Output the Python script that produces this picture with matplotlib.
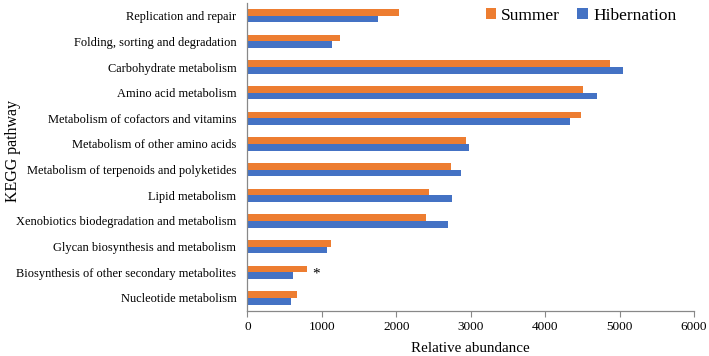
import matplotlib
matplotlib.use("Agg")
import matplotlib.pyplot as plt
import numpy as np

categories = [
    "Replication and repair",
    "Folding, sorting and degradation",
    "Carbohydrate metabolism",
    "Amino acid metabolism",
    "Metabolism of cofactors and vitamins",
    "Metabolism of other amino acids",
    "Metabolism of terpenoids and polyketides",
    "Lipid metabolism",
    "Xenobiotics biodegradation and metabolism",
    "Glycan biosynthesis and metabolism",
    "Biosynthesis of other secondary metabolites",
    "Nucleotide metabolism",
]
summer = [2036, 1247, 4870, 4503, 4480, 2942, 2736, 2435, 2395, 1117, 803, 659]
hibernation = [1758, 1130, 5050, 4691, 4332, 2982, 2875, 2754, 2700, 1072, 610, 579]
xticks = [0, 1000, 2000, 3000, 4000, 5000, 6000]

plt.rcParams['font.family'] = ['Liberation Serif', 'DejaVu Serif']

fig = plt.figure(figsize=(7.09, 3.56), dpi=100)
ax = fig.add_axes([0.349, 0.127, 0.630, 0.865])

y = np.arange(len(categories))
h = 0.26
ax.barh(y - h/2, summer, height=h, color='#ED7D31', label='Summer')
ax.barh(y + h/2, hibernation, height=h, color='#4472C4', label='Hibernation')

ax.set_ylim(len(categories) - 0.5, -0.5)
ax.set_xlim(0, 6000)
ax.set_yticks(y)
ax.set_yticklabels(categories, fontsize=8.9)
ax.set_xticks(xticks)
ax.set_xticklabels([str(t) for t in xticks], fontsize=9.5)
ax.tick_params(axis='y', length=0, pad=8)
ax.tick_params(axis='x', length=4, color='#888888', direction='out')

for s in ['top', 'right']:
    ax.spines[s].set_visible(False)
for s in ['left', 'bottom']:
    ax.spines[s].set_color('#888888')
    ax.spines[s].set_linewidth(0.9)

ax.text(920, 10.05, '*', fontsize=11, ha='center', va='center')

ax.set_xlabel('Relative abundance', fontsize=10.8, labelpad=6)
ax.set_ylabel('KEGG pathway', fontsize=11.5)
ax.yaxis.set_label_coords(-0.508, 0.52)

ax.legend(loc='upper right', ncol=2, frameon=False, fontsize=12.5,
          handlelength=0.6, handleheight=0.6, handletextpad=0.3,
          columnspacing=1.0, bbox_to_anchor=(0.995, 1.035))

fig.savefig('out.png', dpi=100)
